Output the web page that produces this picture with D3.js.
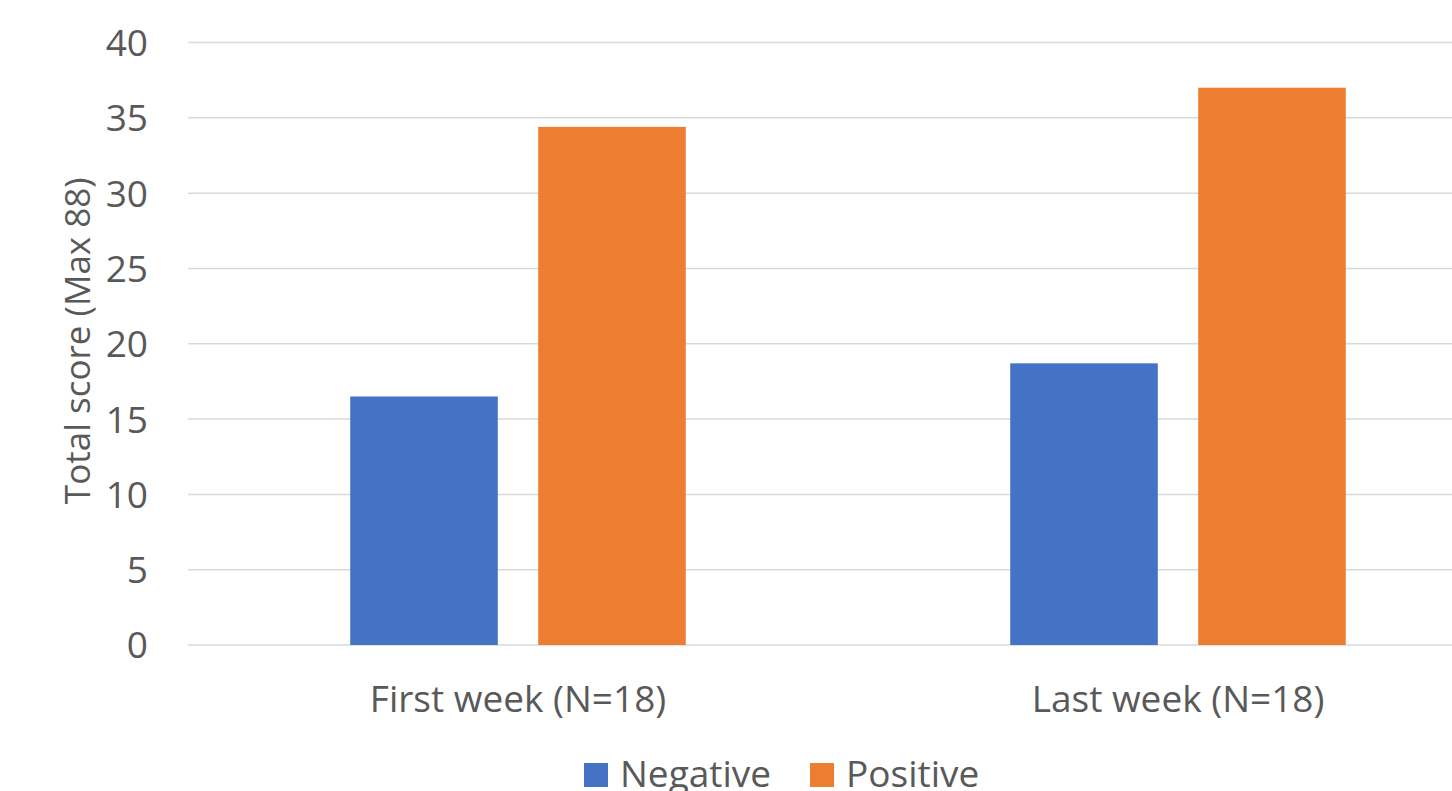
<!DOCTYPE html>
<html>
<head>
<meta charset="utf-8">
<script src="https://cdn.jsdelivr.net/npm/d3@7"></script>
<style>
  body { margin: 0; background: #fff; overflow: hidden; }
  text { font-family: "Open Sans", sans-serif; fill: #595959; }
</style>
</head>
<body>
<div class="canvas"></div>
<script>
// Data
const categories = ['First week (N=18)', 'Last week (N=18)'];
const series = ['Negative', 'Positive'];
const negative = [16.5, 18.7];
const positive = [34.4, 37.0];
const yTicks = [0, 5, 10, 15, 20, 25, 30, 35, 40];
const colors = ['#4472C4', '#ED7D31'];

const width = 1452, height = 791;
const fontSize = 37;

const svg = d3.select('.canvas')
    .append('svg')
        .attr('width', width)
        .attr('height', height)

// plot area (runs off the right edge like the original)
const plotLeft = 188, plotRight = 1508;
const y = d3.scaleLinear()
    .domain([0, 40])
    .range([645, 42.5])

const x = d3.scaleBand()
    .domain(categories)
    .range([plotLeft, plotRight])

const xs = d3.scaleBand()
    .domain(series)
    .range([0, x.bandwidth()])
    .paddingInner(0.215)
    .paddingOuter(0.863)

// gridlines
svg.append('g')
    .selectAll('line')
    .data(yTicks)
    .enter()
    .append('line')
        .attr('x1', plotLeft)
        .attr('x2', width)
        .attr('y1', d => y(d))
        .attr('y2', d => y(d))
        .attr('stroke', '#d9d9d9')
        .attr('stroke-width', 1.5)

// y tick labels
const yAxis = d3.axisLeft(y).tickValues(yTicks).tickSize(0).tickPadding(0);
const yG = svg.append('g')
    .attr('transform', 'translate(148,0)')
    .call(yAxis)
yG.select('.domain').remove();
yG.selectAll('text')
    .attr('font-size', fontSize)
    .attr('font-family', '"Open Sans", sans-serif')
    .attr('fill', '#595959')
    .attr('dy', '0.35em')

// y axis title
svg.append('text')
    .attr('transform', `translate(90, ${y(20) - 3}) rotate(-90)`)
    .attr('text-anchor', 'middle')
    .attr('font-size', 35)
    .text('Total score (Max 88)')

// bars
const rows = categories.map((c, i) => ({cat: c, values: [negative[i], positive[i]]}));
const groups = svg.selectAll('g.group')
    .data(rows)
    .enter()
    .append('g')
        .attr('class', 'group')
        .attr('transform', d => `translate(${x(d.cat)},0)`)

groups.selectAll('rect')
    .data(d => d.values.map((v, j) => ({s: series[j], v, j})))
    .enter()
    .append('rect')
        .attr('x', d => xs(d.s))
        .attr('width', xs.bandwidth())
        .attr('y', d => y(d.v))
        .attr('height', d => y(0) - y(d.v))
        .attr('fill', d => colors[d.j])

// x axis
const xAxis = d3.axisBottom(x).tickSize(0).tickPadding(0);
const xG = svg.append('g')
    .attr('transform', `translate(0, 712)`)
    .call(xAxis)
xG.select('.domain').remove();
xG.selectAll('text')
    .attr('font-size', fontSize)
    .attr('font-family', '"Open Sans", sans-serif')
    .attr('fill', '#595959')
    .attr('dy', 0)

// legend
const legendX = [584, 810];
const legend = svg.selectAll('g.legend')
    .data(series)
    .enter()
    .append('g')
        .attr('class', 'legend')
        .attr('transform', (d, i) => `translate(${legendX[i]}, 763)`)

legend.append('rect')
    .attr('width', 24)
    .attr('height', 24)
    .attr('fill', (d, i) => colors[i])

legend.append('text')
    .attr('x', 36)
    .attr('y', 24)
    .attr('font-size', fontSize)
    .text(d => d)
</script>
</body>
</html>
